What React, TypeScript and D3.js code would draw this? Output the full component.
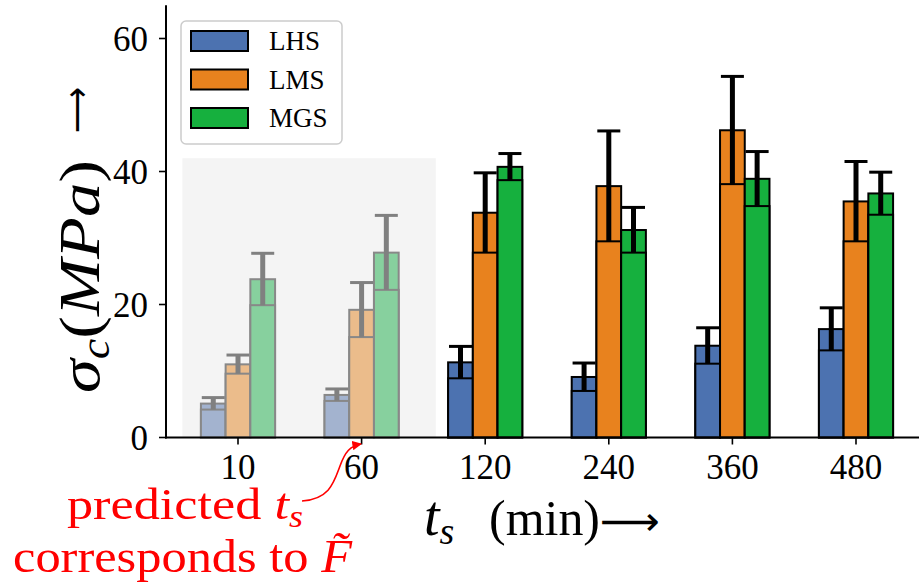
import React from "react";
import * as d3 from "d3";

const categories = ["10", "60", "120", "240", "360", "480"];
const series = ["LHS", "LMS", "MGS"];
const means = [
  [5.1, 6.4, 11.3, 9.1, 13.8, 16.3],
  [11.0, 19.2, 33.8, 37.8, 46.2, 35.5],
  [23.8, 27.8, 40.7, 31.2, 38.9, 36.7],
];
const stds = [
  [0.9, 0.9, 2.4, 2.1, 2.7, 3.2],
  [1.4, 4.1, 6.0, 8.3, 8.1, 6.0],
  [3.9, 5.6, 2.0, 3.4, 4.1, 3.2],
];
const yTicks = [0, 20, 40, 60];
const predicted = [0, 1]; // groups that are predicted (faded)

const colors = ["#4c72b0", "#e8821e", "#16b03e"];
const fadedColors = ["#a3b3cf", "#ebbc8b", "#87d09e"];

const FONT = "'Liberation Serif', 'DejaVu Serif', serif";
const ARROW_FONT = "'DejaVu Sans', sans-serif";

const App = () => {
  const x = d3.scaleLinear().domain([0, 5]).range([238, 856]);
  const y = d3.scaleLinear().domain([0, 65]).range([437.5, 5.25]);
  const bw = x(0.2) - x(0);

  const bars: React.ReactNode[] = [];
  const errs: React.ReactNode[] = [];
  series.forEach((s, j) => {
    categories.forEach((c, i) => {
      const faded = predicted.includes(i);
      const cx = x(i + (j - 1) * 0.2);
      const m = means[j][i];
      const sd = stds[j][i];
      const fill = faded ? fadedColors[j] : colors[j];
      const stroke = faded ? "#888888" : "#000000";
      bars.push(
        <g key={`${s}-${c}`}>
          <rect x={cx - bw / 2} y={y(m)} width={bw} height={y(0) - y(m)} fill={fill} stroke={stroke} strokeWidth={2} />
          <rect x={cx - bw / 2} y={y(m - sd)} width={bw} height={y(0) - y(m - sd)} fill={fill} stroke={stroke} strokeWidth={2} />
        </g>
      );
      errs.push(
        <g key={`e-${s}-${c}`} stroke={faded ? "#808080" : "#000000"}>
          <line x1={cx} x2={cx} y1={y(m - sd)} y2={y(m + sd)} strokeWidth={5} />
          <line x1={cx - 11.5} x2={cx + 11.5} y1={y(m + sd)} y2={y(m + sd)} strokeWidth={3} />
        </g>
      );
    });
  });

  return (
    <svg width={919} height={587} style={{ position: "absolute", left: 0, top: 0, background: "#fff" }} fontFamily={FONT}>
      {/* shaded region for predicted groups */}
      <rect x={x(-0.45)} y={y(42)} width={x(1.6) - x(-0.45)} height={y(0) - y(42)} fill="#f4f4f4" />
      {bars}
      {errs}

      {/* axes */}
      <line x1={166} x2={166} y1={y(65)} y2={y(0) + 1} stroke="#000" strokeWidth={2} />
      <line x1={165} x2={919} y1={y(0)} y2={y(0)} stroke="#000" strokeWidth={2} />
      {yTicks.map((t) => (
        <g key={t}>
          <line x1={159} x2={166} y1={y(t)} y2={y(t)} stroke="#000" strokeWidth={1.6} />
          <text x={148} y={y(t) + 12} textAnchor="end" fontSize={35}>{t}</text>
        </g>
      ))}
      {categories.map((c, i) => (
        <g key={c}>
          <line x1={x(i)} x2={x(i)} y1={y(0)} y2={y(0) + 7} stroke="#000" strokeWidth={1.6} />
          <text x={x(i)} y={479} textAnchor="middle" fontSize={35}>{c}</text>
        </g>
      ))}

      {/* x label */}
      <text x={424} y={535} fontSize={56}>
        <tspan fontStyle="italic">t</tspan>
        <tspan fontStyle="italic" fontSize={38} dy={9}>s</tspan>
      </text>
      <text x={489} y={535} fontSize={51} textLength={111} lengthAdjust="spacingAndGlyphs">(min)</text>
      <text x={600} y={535} fontSize={40} fontFamily={ARROW_FONT} textLength={60} lengthAdjust="spacingAndGlyphs">⟶</text>

      {/* y label */}
      <g transform="translate(99,0) rotate(-90)">
        <text x={-393} y={0} fontSize={58} textLength={233} lengthAdjust="spacingAndGlyphs">
          <tspan fontStyle="italic">σ</tspan>
          <tspan fontStyle="italic" fontSize={39} dy={10}>c</tspan>
          <tspan dy={-10}>(</tspan>
          <tspan fontStyle="italic">MPa</tspan>
          <tspan>)</tspan>
        </text>
        <text x={-133} y={-10} fontSize={36} fontFamily={ARROW_FONT} textLength={46} lengthAdjust="spacingAndGlyphs">⟶</text>
      </g>

      {/* legend */}
      <rect x={181} y={21} width={161} height={123} rx={5} fill="#fff" fillOpacity={0.8} stroke="#cccccc" strokeWidth={1.5} />
      {series.map((s, j) => (
        <g key={s}>
          <rect x={191} y={31 + j * 38.5} width={57} height={20} fill={colors[j]} stroke="#000" strokeWidth={2} />
          <text x={269} y={50 + j * 38.5} fontSize={27}>{s}</text>
        </g>
      ))}

      {/* annotation */}
      <text x={67} y={519} fontSize={45} fill="#ff0000" textLength={236} lengthAdjust="spacingAndGlyphs">
        <tspan>predicted </tspan>
        <tspan fontStyle="italic">t</tspan>
        <tspan fontStyle="italic" fontSize={31} dy={8}>s</tspan>
      </text>
      <text x={13} y={572} fontSize={46} fill="#ff0000" textLength={339} lengthAdjust="spacingAndGlyphs">
        <tspan>corresponds to </tspan>
        <tspan fontStyle="italic">F̃</tspan>
      </text>
      <defs>
        <marker id="ah" viewBox="0 0 10 10" refX={9} refY={5} markerWidth={6} markerHeight={6} orient="auto">
          <path d="M0,0 L10,5 L0,10 z" fill="#ff0000" />
        </marker>
      </defs>
      <path d="M302,501 C330,499 334,482 340,466 C345,452 350,446 361,444" fill="none" stroke="#ff0000" strokeWidth={1.6} markerEnd="url(#ah)" />
    </svg>
  );
};

export default App;
